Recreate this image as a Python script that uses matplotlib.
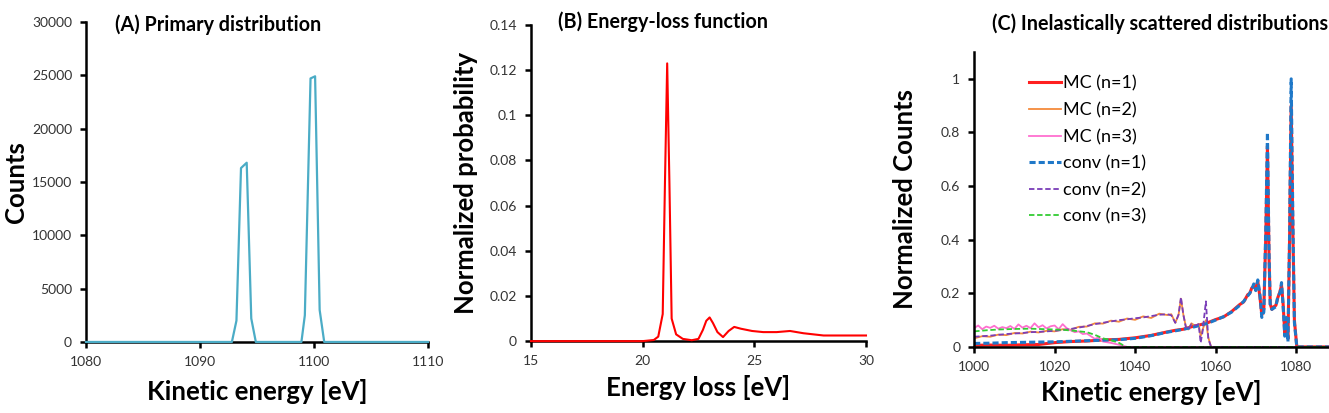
import numpy as np
import matplotlib.pyplot as plt

plt.rcParams['font.family'] = ['Lato', 'DejaVu Sans']

# (A) primary distribution
prim_x = [1080, 1092.8, 1093.2, 1093.6, 1094.1, 1094.5, 1094.9, 1098.9, 1099.2, 1099.7, 1100.1, 1100.5, 1100.9, 1110]
prim_y = [0, 0, 2000, 16300, 16800, 2200, 0, 0, 2500, 24700, 24900, 3000, 0, 0]

# (B) energy-loss function
loss_x = [15, 20.0, 20.5, 20.7, 20.9, 21.0, 21.1, 21.2, 21.3, 21.5, 21.8, 22.2, 22.5, 22.7, 22.85,
          23.0, 23.15, 23.35, 23.6, 23.85, 24.1, 24.4, 24.9, 25.4, 26.0, 26.6, 27.2, 28.1, 30]
loss_y = [0, 0, 0.0005, 0.002, 0.012, 0.07, 0.123, 0.07, 0.01, 0.003, 0.001, 0.0004, 0.001, 0.005, 0.009,
          0.0105, 0.008, 0.004, 0.0018, 0.0045, 0.0063, 0.0055, 0.0045, 0.004, 0.004, 0.0045, 0.0035, 0.0025, 0.0025]

# (C) inelastically scattered distributions
n1_x = [1000, 1004, 1008, 1012, 1016, 1020, 1024, 1028, 1032, 1036, 1040, 1044, 1048, 1050, 1052, 1054,
        1056, 1058, 1060, 1062, 1064, 1066, 1067, 1068, 1068.5, 1069, 1069.5, 1070, 1070.5, 1071, 1071.5,
        1072, 1072.5, 1072.9, 1073.3, 1073.6, 1074, 1074.5, 1075, 1075.5, 1076, 1076.4, 1076.8, 1077.2,
        1077.6, 1078, 1078.4, 1078.8, 1079.2, 1079.6, 1080.2, 1090]
mc1_y = [0.006, 0.007, 0.006, 0.008, 0.009, 0.016, 0.02, 0.022, 0.026, 0.028, 0.034, 0.043, 0.056, 0.062, 0.066, 0.075,
         0.082, 0.09, 0.102, 0.112, 0.132, 0.158, 0.168, 0.195, 0.2, 0.22, 0.225, 0.22, 0.245, 0.19, 0.12,
         0.14, 0.42, 0.75, 0.33, 0.16, 0.14, 0.15, 0.155, 0.185, 0.205, 0.23, 0.16, 0.05,
         0.1, 0.03, 0.4, 0.9, 0.45, 0.1, 0.0, 0.0]
conv1_y = [0.013, 0.014, 0.016, 0.017, 0.018, 0.019, 0.021, 0.023, 0.025, 0.027, 0.032, 0.042, 0.055, 0.06, 0.066, 0.072,
           0.08, 0.088, 0.1, 0.113, 0.13, 0.155, 0.17, 0.19, 0.2, 0.215, 0.235, 0.21, 0.25, 0.2, 0.11,
           0.13, 0.45, 0.8, 0.35, 0.15, 0.14, 0.145, 0.15, 0.19, 0.2, 0.24, 0.15, 0.04,
           0.11, 0.02, 0.42, 1.0, 0.5, 0.09, 0.0, 0.0]

n2_x = [1000, 1002, 1004, 1006, 1008, 1010, 1012, 1014, 1016, 1018, 1020, 1022, 1024, 1026, 1028, 1030,
        1032, 1034, 1036, 1038, 1040, 1042, 1044, 1046, 1048, 1049, 1050, 1050.8, 1051.4, 1052, 1052.6,
        1053.2, 1054, 1055, 1055.8, 1056.3, 1056.8, 1057.6, 1058.2, 1058.9, 1090]
mc2_y = [0.032, 0.04, 0.038, 0.046, 0.044, 0.052, 0.05, 0.057, 0.054, 0.06, 0.058, 0.066, 0.064, 0.075, 0.076, 0.088,
         0.087, 0.098, 0.094, 0.106, 0.101, 0.114, 0.108, 0.124, 0.119, 0.122, 0.09, 0.12, 0.18, 0.12, 0.078,
         0.065, 0.088, 0.078, 0.085, 0.04, 0.065, 0.1, 0.035, 0.0, 0.0]
conv2_y = [0.038, 0.04, 0.042, 0.045, 0.048, 0.05, 0.052, 0.055, 0.056, 0.058, 0.06, 0.063, 0.067, 0.072, 0.078, 0.085,
           0.09, 0.095, 0.1, 0.103, 0.107, 0.11, 0.115, 0.12, 0.122, 0.118, 0.09, 0.12, 0.185, 0.12, 0.075,
           0.065, 0.085, 0.08, 0.085, 0.015, 0.06, 0.17, 0.03, 0.0, 0.0]

mc3_x = [1000, 1001, 1002, 1003, 1004, 1005, 1006, 1007, 1008, 1009, 1010, 1011, 1012, 1013, 1014, 1015,
         1016, 1017, 1018, 1019, 1020, 1021, 1022, 1023, 1024, 1025, 1026, 1027, 1028, 1029, 1030, 1031,
         1032, 1034, 1036, 1038, 1090]
mc3_y = [0.07, 0.08, 0.066, 0.076, 0.071, 0.079, 0.068, 0.074, 0.07, 0.078, 0.067, 0.084, 0.072, 0.079, 0.07, 0.088,
         0.073, 0.081, 0.069, 0.077, 0.08, 0.066, 0.085, 0.07, 0.062, 0.055, 0.058, 0.048, 0.05, 0.04, 0.03, 0.036,
         0.02, 0.015, 0.008, 0.0, 0.0]
conv3_x = [1000, 1003, 1006, 1010, 1014, 1018, 1022, 1025, 1028, 1030, 1032, 1034, 1036, 1037.8, 1090]
conv3_y = [0.058, 0.062, 0.065, 0.067, 0.068, 0.066, 0.064, 0.06, 0.055, 0.045, 0.032, 0.025, 0.015, 0.0, 0.0]

fig = plt.figure(figsize=(13.29, 4.13), dpi=100)
axA = fig.add_axes([0.0647, 0.172, 0.2573, 0.775])
axB = fig.add_axes([0.3995, 0.174, 0.2521, 0.7655])
axC = fig.add_axes([0.733, 0.160, 0.267, 0.714])

tick_col = '#333333'
lab_font = dict(fontsize=18.5, fontweight='bold')
title_font = dict(fontsize=14.2, fontweight='bold')
for ax in (axA, axB, axC):
    ax.spines['top'].set_visible(False)
    ax.spines['right'].set_visible(False)
    ax.spines['left'].set_linewidth(1.8)
    ax.spines['bottom'].set_linewidth(1.8)
    ax.tick_params(direction='out', length=4, width=1.8, labelsize=10, labelcolor=tick_col, pad=6)

# panel A
axA.plot(prim_x, prim_y, color='#4BACC6', lw=1.6, clip_on=False, zorder=3)
axA.set_xlim(1080, 1110)
axA.set_ylim(0, 30000)
axA.set_xticks([1080, 1090, 1100, 1110])
axA.set_yticks(range(0, 30001, 5000))
axA.set_xlabel('Kinetic energy [eV]', labelpad=8, **lab_font)
axA.set_ylabel('Counts', labelpad=3, **lab_font)
axA.text(0.085, 0.99, '(A) Primary distribution', transform=axA.transAxes,
         va='center', ha='left', **title_font)

# panel B
axB.plot(loss_x, loss_y, color='#FF0000', lw=1.5, clip_on=False, zorder=3)
axB.set_xlim(15, 30)
axB.set_ylim(0, 0.14)
axB.set_xticks([15, 20, 25, 30])
axB.set_yticks([0, 0.02, 0.04, 0.06, 0.08, 0.1, 0.12, 0.14])
axB.set_yticklabels(['0', '0.02', '0.04', '0.06', '0.08', '0.1', '0.12', '0.14'])
axB.set_xlabel('Energy loss [eV]', labelpad=6, **lab_font)
axB.set_ylabel('Normalized probability', labelpad=8, **lab_font)
axB.text(0.08, 1.01, '(B) Energy-loss function', transform=axB.transAxes,
         va='center', ha='left', **title_font)

# panel C
axC.plot(n1_x, mc1_y, color='#FF2020', lw=2.2, label='MC (n=1)')
axC.plot(n2_x, mc2_y, color='#F58A3C', lw=1.3, label='MC (n=2)')
axC.plot(mc3_x, mc3_y, color='#FF6FD0', lw=1.3, label='MC (n=3)')
axC.plot(n1_x, conv1_y, color='#1F78C8', lw=2.2, ls=(0, (2, 1)), label='conv (n=1)')
axC.plot(n2_x, conv2_y, color='#7A3DB8', lw=1.3, ls=(0, (3, 1.5)), label='conv (n=2)')
axC.plot(conv3_x, conv3_y, color='#33CC33', lw=1.3, ls=(0, (3, 1.5)), label='conv (n=3)')
axC.set_xlim(1000, 1088.2)
axC.set_ylim(0, 1.1)
axC.set_xticks([1000, 1020, 1040, 1060, 1080])
axC.set_yticks([0, 0.2, 0.4, 0.6, 0.8, 1.0])
axC.set_yticklabels(['0', '0.2', '0.4', '0.6', '0.8', '1'])
axC.set_xlabel('Kinetic energy [eV]', labelpad=5, **lab_font)
axC.set_ylabel('Normalized Counts', labelpad=17, **lab_font)
axC.text(0.05, 1.095, '(C) Inelastically scattered distributions', transform=axC.transAxes,
         va='center', ha='left', **title_font)
axC.legend(loc='upper left', bbox_to_anchor=(0.155, 0.92), frameon=False, fontsize=13,
           handlelength=1.75, handletextpad=0.1, labelspacing=0.58, borderpad=0, borderaxespad=0)

fig.savefig('out.png', dpi=100)
